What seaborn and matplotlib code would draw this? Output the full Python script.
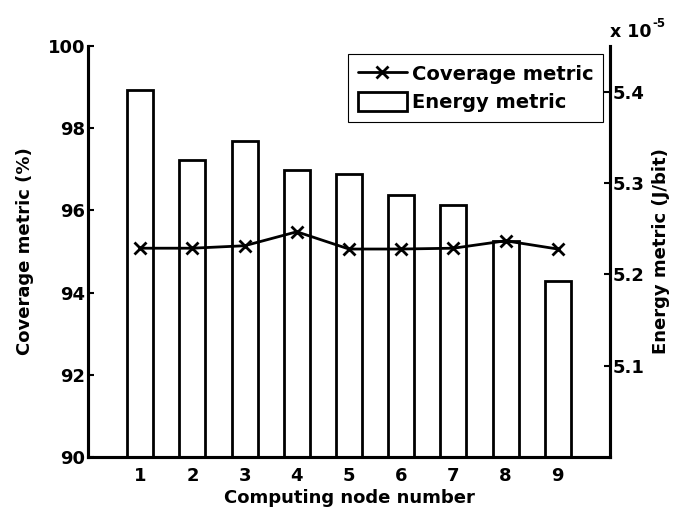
import seaborn as sns
import matplotlib.pyplot as plt
import pandas as pd

nodes = [1, 2, 3, 4, 5, 6, 7, 8, 9]
coverage = [95.08, 95.08, 95.14, 95.48, 95.06, 95.06, 95.08, 95.26, 95.06]
energy = [5.402, 5.325, 5.346, 5.314, 5.310, 5.287, 5.276, 5.237, 5.193]  # x 1e-5 J/bit

df = pd.DataFrame({'node': nodes, 'coverage': coverage, 'energy': energy})

sns.set_style('white')
plt.rcParams['font.family'] = ['DejaVu Sans']
plt.rcParams['font.weight'] = 'bold'
plt.rcParams['axes.labelweight'] = 'bold'
plt.rcParams['axes.labelcolor'] = 'black'
plt.rcParams['text.color'] = 'black'
plt.rcParams['font.size'] = 13

fig = plt.figure(figsize=(6.75, 5.09), dpi=100)
ax = fig.add_axes([0.1304, 0.1022, 0.7733, 0.8074])
ax2 = ax.twinx()

# bars on right axis, drawn behind the line
sns.barplot(data=df, x='node', y='energy', native_scale=True, width=0.5,
            color='white', edgecolor='black', linewidth=2, ax=ax2,
            label='Energy metric')
sns.lineplot(data=df, x='node', y='coverage', color='black', linewidth=2,
             marker='x', markersize=9, markeredgewidth=2, markeredgecolor='black',
             ax=ax, label='Coverage metric')

ax.set_zorder(ax2.get_zorder() + 1)
ax.patch.set_visible(False)

ax.set_xlim(0, 10)
ax.set_ylim(90, 100)
ax.set_yticks([90, 92, 94, 96, 98, 100])
ax.set_xticks(nodes)
ax2.set_ylim(5.0, 5.45)
ax2.set_yticks([5.1, 5.2, 5.3, 5.4])
ax2.set_yticklabels(['5.1', '5.2', '5.3', '5.4'])

ax.set_xlabel('Computing node number', labelpad=3, color='black')
ax.set_ylabel('Coverage metric (%)', labelpad=10, color='black')
ax2.set_ylabel('Energy metric (J/bit)', labelpad=5, color='black')

for a in (ax, ax2):
    for s in a.spines.values():
        s.set_linewidth(2.2)
        s.set_color('black')
    a.spines['top'].set_visible(False)
    a.tick_params(direction='in', length=4, width=1.5, colors='black',
                  labelsize=13, pad=2)
ax.tick_params(axis='x', pad=7)
ax.tick_params(axis='y', right=False)
ax2.tick_params(axis='y', left=False)

ax2.text(1.0, 1.022, 'x 10', transform=ax2.transAxes,
         ha='left', va='baseline', fontsize=12.5, fontweight='bold')
ax2.annotate('-5', xy=(1.0, 1.022), xycoords='axes fraction',
             xytext=(30.5, 7), textcoords='offset points',
             ha='left', va='baseline', fontsize=8.5, fontweight='bold')

h1, l1 = ax.get_legend_handles_labels()
h2, l2 = ax2.get_legend_handles_labels()
if ax2.get_legend():
    ax2.get_legend().remove()
leg = ax.legend(h1 + h2, l1 + l2, loc='upper right', bbox_to_anchor=(0.9866, 0.9805),
                frameon=True, fancybox=False, framealpha=1, edgecolor='black',
                handlelength=2.5, handleheight=1.1, borderpad=0.5,
                labelspacing=0.45, handletextpad=0.25, borderaxespad=0,
                prop={'weight': 'bold', 'size': 14})
leg.get_frame().set_linewidth(0.8)
for t in leg.get_texts():
    t.set_color('black')

fig.savefig('out.png', dpi=100)
